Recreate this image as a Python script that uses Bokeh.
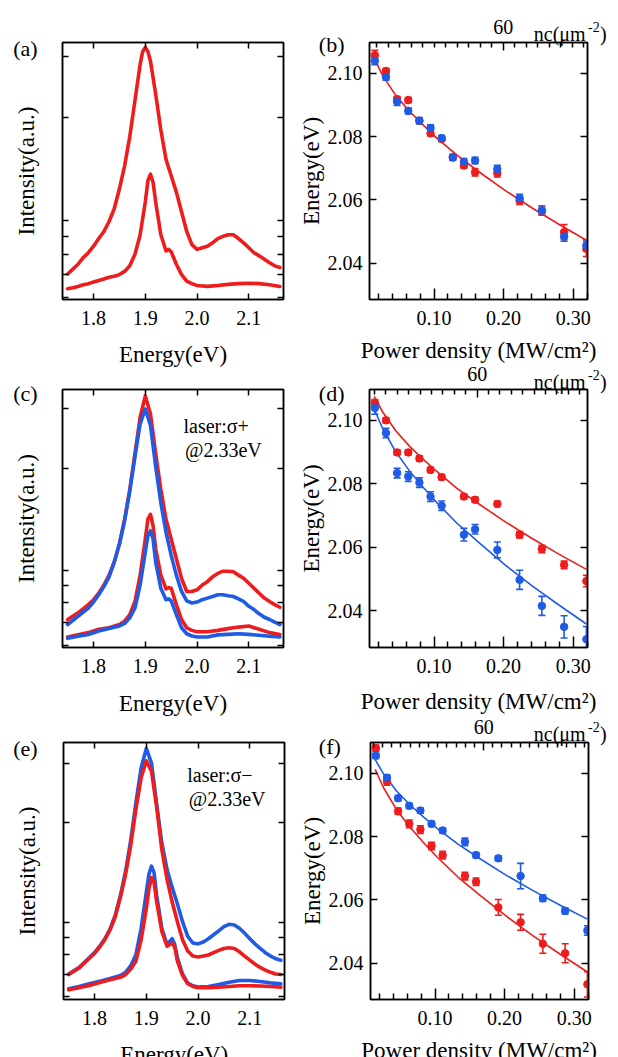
from bokeh.plotting import figure
from bokeh.models import (Range1d, LinearAxis, LogAxis, FixedTicker, Label, Whisker,
                          TeeHead, ColumnDataSource, NumeralTickFormatter, CustomLabelingPolicy)
from bokeh.layouts import row, column
from bokeh.embed import file_html
from bokeh.resources import INLINE

SERIF = "Liberation Serif"
RED = "#ee1c1c"
BLUE = "#1f5be6"

# ---------------- spectra (left column), intensity in a.u. (log axis) ----------------
E_TICKS = [1.8, 1.9, 2.0, 2.1]
I_TICKS = [6, 7, 8, 9, 10, 20, 30]

a_E_up = [1.75, 1.76, 1.77, 1.78, 1.79, 1.80, 1.81, 1.82, 1.83, 1.84, 1.85, 1.86, 1.87, 1.88, 1.89,
          1.895, 1.90, 1.905, 1.91, 1.92, 1.93, 1.94, 1.95, 1.96, 1.97, 1.98, 1.99, 2.00, 2.01, 2.02,
          2.03, 2.04, 2.05, 2.06, 2.07, 2.08, 2.09, 2.10, 2.11, 2.12, 2.13, 2.14, 2.15, 2.16]
a_I_up = [7.01, 7.24, 7.48, 7.82, 8.08, 8.44, 8.88, 9.31, 9.95, 10.85, 12.38, 14.43, 17.56, 22.34, 28.41,
          31.0, 31.83, 31.0, 29.04, 23.33, 18.34, 15.07, 13.51, 12.11, 10.62, 9.31, 8.53, 8.26, 8.35, 8.44,
          8.63, 8.88, 9.01, 9.11, 9.11, 8.88, 8.63, 8.35, 8.08, 7.91, 7.73, 7.56, 7.40, 7.32]
a_E_low = [1.75, 1.76, 1.77, 1.78, 1.79, 1.80, 1.81, 1.82, 1.83, 1.84, 1.85, 1.86, 1.87, 1.88, 1.89, 1.90,
           1.905, 1.91, 1.915, 1.92, 1.93, 1.94, 1.945, 1.95, 1.96, 1.97, 1.98, 1.99, 2.00, 2.02, 2.04,
           2.06, 2.08, 2.10, 2.12, 2.14, 2.16]
a_I_low = [6.35, 6.39, 6.45, 6.52, 6.57, 6.64, 6.71, 6.78, 6.86, 6.90, 6.98, 7.13, 7.40, 7.99, 9.11, 11.34,
           13.07, 13.65, 12.93, 11.34, 9.11, 8.17, 8.26, 8.13, 7.48, 6.98, 6.68, 6.57, 6.49, 6.45, 6.49,
           6.54, 6.57, 6.59, 6.57, 6.52, 6.45]

ce_E_up = [1.75, 1.77, 1.79, 1.80, 1.81, 1.82, 1.83, 1.84, 1.85, 1.86, 1.87, 1.88, 1.89, 1.90,
           1.91, 1.92, 1.93, 1.94, 1.95, 1.96, 1.97, 1.98, 1.99, 2.00, 2.01, 2.02, 2.03, 2.04, 2.05,
           2.06, 2.07, 2.08, 2.09, 2.10, 2.11, 2.12, 2.13, 2.14, 2.15, 2.16]
c_red_up = [7.14, 7.47, 7.90, 8.17, 8.54, 9.03, 9.66, 10.56, 11.95, 14.14, 17.30, 22.13, 28.31, 32.74,
            28.95, 22.13, 17.30, 14.14, 12.36, 10.80, 9.45, 8.64, 8.64, 8.74, 9.03, 9.24, 9.55, 9.77, 9.92,
            9.92, 9.88, 9.66, 9.45, 9.14, 8.83, 8.54, 8.26, 8.07, 7.90, 7.76]
c_blue_up = [6.90, 7.30, 7.72, 8.04, 8.45, 8.93, 9.55, 10.56, 11.95, 13.98, 17.11, 21.64, 27.07, 29.95,
             26.77, 20.23, 15.81, 12.93, 11.05, 9.66, 8.64, 8.11, 7.99, 8.04, 8.17, 8.26, 8.35, 8.45, 8.45,
             8.39, 8.35, 8.22, 8.07, 7.81, 7.64, 7.42, 7.25, 7.14, 7.01, 6.90]
c_E_low = [1.75, 1.77, 1.79, 1.81, 1.83, 1.85, 1.86, 1.87, 1.88, 1.89, 1.90, 1.905, 1.91, 1.915, 1.92,
           1.93, 1.94, 1.945, 1.95, 1.96, 1.97, 1.98, 1.99, 2.00, 2.02, 2.04, 2.06, 2.08, 2.10, 2.12,
           2.14, 2.16]
c_red_low = [6.34, 6.43, 6.53, 6.68, 6.75, 6.90, 7.06, 7.38, 8.07, 9.66, 12.36, 14.14, 14.62, 13.52, 11.56,
             9.66, 8.80, 8.87, 8.83, 7.90, 7.14, 6.75, 6.63, 6.57, 6.57, 6.63, 6.71, 6.78, 6.83, 6.68,
             6.53, 6.45]
c_blue_low = [6.28, 6.37, 6.45, 6.60, 6.71, 6.83, 6.95, 7.22, 7.72, 9.03, 11.30, 12.64, 13.07, 12.36, 10.56,
              8.83, 8.17, 8.22, 8.11, 7.38, 6.75, 6.48, 6.38, 6.34, 6.34, 6.43, 6.45, 6.48, 6.45, 6.41,
              6.37, 6.34]

e_blue_up = [7.01, 7.33, 7.85, 8.12, 8.49, 8.94, 9.57, 10.52, 12.05, 14.28, 17.70, 22.96, 29.09, 33.32,
             30.10, 22.69, 17.31, 14.44, 12.75, 11.39, 10.06, 9.09, 8.68, 8.63, 8.74, 8.94, 9.19, 9.44, 9.72,
             9.88, 9.83, 9.61, 9.29, 8.94, 8.63, 8.36, 8.12, 7.93, 7.79, 7.71]
e_red_up = [6.98, 7.30, 7.81, 8.08, 8.45, 8.90, 9.51, 10.41, 11.92, 13.96, 17.11, 21.93, 27.19, 30.58,
            28.44, 22.18, 16.54, 13.49, 11.52, 10.06, 8.88, 8.21, 7.93, 7.88, 7.93, 7.99, 8.12, 8.25, 8.36,
            8.40, 8.36, 8.17, 7.93, 7.71, 7.50, 7.33, 7.20, 7.09, 7.01, 6.98]
e_E_low = [1.75, 1.77, 1.79, 1.81, 1.83, 1.85, 1.86, 1.87, 1.88, 1.89, 1.90, 1.905, 1.91, 1.915, 1.92,
           1.93, 1.94, 1.95, 1.955, 1.96, 1.97, 1.98, 1.99, 2.00, 2.02, 2.04, 2.06, 2.08, 2.10, 2.12,
           2.14, 2.16]
e_blue_low = [6.33, 6.43, 6.55, 6.67, 6.79, 6.93, 7.09, 7.42, 8.02, 9.61, 12.33, 13.96, 14.77, 14.12, 12.05,
              9.61, 8.59, 8.94, 8.59, 7.85, 7.01, 6.58, 6.46, 6.40, 6.43, 6.52, 6.62, 6.70, 6.70, 6.65,
              6.59, 6.55]
e_red_low = [6.28, 6.37, 6.47, 6.61, 6.73, 6.85, 6.98, 7.25, 7.67, 8.88, 11.01, 12.61, 13.65, 13.19, 11.52,
             9.40, 8.49, 8.68, 8.43, 7.67, 6.93, 6.55, 6.43, 6.37, 6.37, 6.40, 6.43, 6.46, 6.46, 6.45,
             6.43, 6.40]

# ---------------- peak energy vs power density (right column) ----------------
P_TICKS = [0.10, 0.20, 0.30]
P_MINOR = [0.02, 0.04, 0.06, 0.08, 0.12, 0.14, 0.16, 0.18, 0.22, 0.24, 0.26, 0.28, 0.32]
EN_TICKS = [2.04, 2.06, 2.08, 2.10]
NC_TICKS = [60]
NC_MINOR = [v for v in range(-5, 125, 5) if v != 60]

P15 = [0.015, 0.031, 0.047, 0.063, 0.079, 0.095, 0.111, 0.127, 0.143, 0.159, 0.191, 0.223, 0.255, 0.287, 0.319]
P14 = [0.015, 0.031, 0.047, 0.063, 0.079, 0.095, 0.111, 0.143, 0.159, 0.191, 0.223, 0.255, 0.287, 0.319]

b_red = [2.1057, 2.1007, 2.0918, 2.0915, 2.0850, 2.0810, 2.0792, 2.0734, 2.0708, 2.0687, 2.0684, 2.0597, 2.0564, 2.0498, 2.0445]
b_red_err = [0.0015, 0.0008, 0.0008, 0.0008, 0.0008, 0.0008, 0.0008, 0.0008, 0.0008, 0.0012, 0.0012, 0.0012, 0.0012, 0.0024, 0.0024]
b_blue = [2.1039, 2.0988, 2.0910, 2.0881, 2.0850, 2.0827, 2.0795, 2.0734, 2.0720, 2.0724, 2.0697, 2.0605, 2.0566, 2.0484, 2.0456]
b_blue_err = [0.0012, 0.0010, 0.0012, 0.0010, 0.0010, 0.0010, 0.0008, 0.0010, 0.0010, 0.0010, 0.0012, 0.0012, 0.0015, 0.0015, 0.0018]

d_red = [2.1055, 2.1000, 2.0899, 2.0899, 2.0880, 2.0844, 2.0821, 2.0760, 2.0750, 2.0737, 2.0640, 2.0595, 2.0545, 2.0494]
d_red_err = [0.0010, 0.0008, 0.0008, 0.0008, 0.0008, 0.0008, 0.0008, 0.0008, 0.0008, 0.0008, 0.0010, 0.0012, 0.0012, 0.0018]
d_blue = [2.1039, 2.0960, 2.0834, 2.0823, 2.0804, 2.0760, 2.0731, 2.0640, 2.0657, 2.0592, 2.0498, 2.0416, 2.0350, 2.0311]
d_blue_err = [0.0020, 0.0015, 0.0015, 0.0015, 0.0015, 0.0015, 0.0015, 0.0020, 0.0015, 0.0025, 0.0030, 0.0030, 0.0035, 0.0040]

f_red = [2.1079, 2.0974, 2.0880, 2.0840, 2.0822, 2.0770, 2.0741, 2.0675, 2.0657, 2.0576, 2.0529, 2.0461, 2.0431, 2.0333]
f_red_err = [0.0010, 0.0012, 0.0010, 0.0012, 0.0012, 0.0012, 0.0012, 0.0012, 0.0012, 0.0025, 0.0025, 0.0030, 0.0030, 0.0040]
f_blue = [2.1055, 2.0986, 2.0921, 2.0897, 2.0882, 2.0840, 2.0819, 2.0783, 2.0741, 2.0731, 2.0675, 2.0605, 2.0565, 2.0503]
f_blue_err = [0.0008, 0.0008, 0.0008, 0.0008, 0.0008, 0.0008, 0.0008, 0.0012, 0.0008, 0.0008, 0.0040, 0.0010, 0.0010, 0.0015]

fit_P_b = [0.011, 0.026, 0.045, 0.065, 0.085, 0.104, 0.133, 0.163, 0.202, 0.241, 0.280, 0.319]
fit_b_red = [2.1062, 2.0993, 2.0930, 2.0879, 2.0835, 2.0795, 2.0741, 2.0691, 2.0630, 2.0574, 2.0522, 2.0472]
fit_P_df = [0.014, 0.026, 0.045, 0.065, 0.085, 0.104, 0.133, 0.163, 0.202, 0.241, 0.280, 0.319]
fit_d_red = [2.1075, 2.1027, 2.0967, 2.0918, 2.0876, 2.0839, 2.0786, 2.0739, 2.0681, 2.0628, 2.0578, 2.0531]
fit_d_blue = [2.1036, 2.0975, 2.0901, 2.0840, 2.0788, 2.0741, 2.0676, 2.0618, 2.0545, 2.0479, 2.0418, 2.0359]
fit_f_red = [2.1012, 2.0954, 2.0884, 2.0827, 2.0777, 2.0733, 2.0672, 2.0617, 2.0549, 2.0486, 2.0428, 2.0372]
fit_f_blue = [2.1043, 2.0998, 2.0943, 2.0898, 2.0859, 2.0824, 2.0776, 2.0732, 2.0678, 2.0629, 2.0583, 2.0539]


def hide_labels():
    return CustomLabelingPolicy(code="for (const i of Array.from(indices)) { indices.unset(i) }")


def style_axis(ax, tick_in, minor_in=0, label_size="20px", standoff=11, labels=True):
    ax.major_tick_in = tick_in
    ax.major_tick_out = 0
    ax.minor_tick_in = minor_in
    ax.minor_tick_out = 0
    ax.axis_line_color = "black"
    ax.axis_line_width = 1.5
    ax.major_tick_line_width = 1.5
    ax.minor_tick_line_width = 1.5
    ax.major_tick_line_color = "black"
    ax.minor_tick_line_color = "black"
    ax.major_label_text_font = SERIF
    ax.major_label_text_font_size = label_size if labels else "0px"
    ax.major_label_text_color = "black"
    ax.major_label_standoff = standoff if labels else 0
    if not labels:
        ax.major_label_policy = hide_labels()
    ax.axis_label_text_font = SERIF
    ax.axis_label_text_font_size = "23px"
    ax.axis_label_text_font_style = "normal"
    ax.axis_label_text_color = "black"


def base_fig(w, h, bl, br, bt, bb, xr, yr, log=False):
    p = figure(width=w, height=h, x_range=Range1d(*xr), y_range=Range1d(*yr),
               y_axis_type="log" if log else "linear", output_backend="svg",
               toolbar_location=None, min_border_left=bl, min_border_right=br,
               min_border_top=bt, min_border_bottom=bb)
    p.grid.visible = False
    p.outline_line_color = "black"
    p.outline_line_width = 1.5
    p.background_fill_color = "white"
    p.border_fill_color = "white"
    return p


def spectrum_panel(w, h, bl, br, bt, bb, yr, curves):
    p = base_fig(w, h, bl, br, bt, bb, (1.740, 2.167), yr, log=True)
    xa = p.xaxis[0]
    ya = p.yaxis[0]
    xa.ticker = FixedTicker(ticks=E_TICKS, minor_ticks=[])
    xa.formatter = NumeralTickFormatter(format="0.0")
    style_axis(xa, 6)
    ya.ticker = FixedTicker(ticks=I_TICKS, minor_ticks=[])
    style_axis(ya, 6, labels=False)
    ya.axis_label = "Intensity(a.u.)"
    ya.axis_label_standoff = 24
    top = LinearAxis(ticker=FixedTicker(ticks=E_TICKS, minor_ticks=[]))
    style_axis(top, 6, labels=False)
    p.add_layout(top, "above")
    right = LogAxis(ticker=FixedTicker(ticks=I_TICKS, minor_ticks=[]))
    style_axis(right, 6, labels=False)
    p.add_layout(right, "right")
    for ex, iy, col in curves:
        p.line(ex, iy, line_color=col, line_width=3.6, line_join="round", line_cap="round")
    return p


def energy_panel(w, h, bl, br, bt, bb, nc_range, series, fits):
    p = base_fig(w, h, bl, br, bt, bb, (0.0073, 0.3206), (2.0285, 2.1097))
    xa = p.xaxis[0]
    ya = p.yaxis[0]
    xa.ticker = FixedTicker(ticks=P_TICKS, minor_ticks=P_MINOR)
    xa.formatter = NumeralTickFormatter(format="0.00")
    style_axis(xa, 11, 6)
    ya.ticker = FixedTicker(ticks=EN_TICKS, minor_ticks=[])
    ya.formatter = NumeralTickFormatter(format="0.00")
    style_axis(ya, 7, standoff=7)
    ya.axis_label = "Energy(eV)"
    ya.axis_label_standoff = 1
    right = LinearAxis(ticker=FixedTicker(ticks=EN_TICKS, minor_ticks=[]))
    style_axis(right, 7, labels=False)
    p.add_layout(right, "right")
    p.extra_x_ranges = {"nc": Range1d(*nc_range)}
    top = LinearAxis(x_range_name="nc", ticker=FixedTicker(ticks=NC_TICKS, minor_ticks=NC_MINOR))
    style_axis(top, 8, 5, standoff=9)
    p.add_layout(top, "above")

    for fx, fy, col in fits:
        p.line(fx, fy, line_color=col, line_width=1.6)
    for px, ey, err, col in series:
        src = ColumnDataSource(dict(x=px, y=ey,
                                    lo=[a - b for a, b in zip(ey, err)],
                                    hi=[a + b for a, b in zip(ey, err)]))
        p.add_layout(Whisker(base="x", lower="lo", upper="hi", source=src, line_color=col,
                             line_width=1.6,
                             lower_head=TeeHead(size=7, line_color=col, line_width=1.6),
                             upper_head=TeeHead(size=7, line_color=col, line_width=1.6)))
        p.scatter("x", "y", source=src, size=7.5, marker="circle", fill_color=col, line_color=col)
    return p


LW, RW = 295, 323
TOTAL_H = 1057
pa = spectrum_panel(LW, 358, 62, 12, 37, 59, (5.91, 32.9),
                    [(a_E_up, a_I_up, RED), (a_E_low, a_I_low, RED)])
pb = energy_panel(RW, 358, 74, 31, 42, 59, (1.9, 96.6),
                  [(P15, b_red, b_red_err, RED), (P15, b_blue, b_blue_err, BLUE)],
                  [(fit_P_b, fit_b_red, RED)])

pc = spectrum_panel(LW, 352, 62, 12, 27, 63, (5.90, 34.2),
                    [(ce_E_up, c_red_up, RED), (c_E_low, c_red_low, RED),
                     (ce_E_up, c_blue_up, BLUE), (c_E_low, c_blue_low, BLUE)])
pd = energy_panel(RW, 352, 74, 31, 31, 62, (12.8, 108.4),
                  [(P14, d_red, d_red_err, RED), (P14, d_blue, d_blue_err, BLUE)],
                  [(fit_P_df, fit_d_red, RED), (fit_P_df, fit_d_blue, BLUE)])

pe = spectrum_panel(LW, 347, 63, 11, 27, 58, (5.875, 34.7),
                    [(ce_E_up, e_blue_up, BLUE), (e_E_low, e_blue_low, BLUE),
                     (ce_E_up, e_red_up, RED), (e_E_low, e_red_low, RED)])
pf = energy_panel(RW, 347, 75, 30, 32, 58, (-1.6, 117.1),
                  [(P14, f_red, f_red_err, RED), (P14, f_blue, f_blue_err, BLUE)],
                  [(fit_P_df, fit_f_red, RED), (fit_P_df, fit_f_blue, BLUE)])

# transparent overlay that carries the free texts (panel tags, units, notes, x titles)
ov = figure(width=LW + RW, height=TOTAL_H, x_range=Range1d(0, LW + RW), y_range=Range1d(TOTAL_H, 0),
            output_backend="svg", toolbar_location=None, x_axis_location=None, y_axis_location=None,
            min_border=0, min_border_left=0, min_border_right=0, min_border_top=0, min_border_bottom=0,
            margin=(-TOTAL_H, 0, 0, 0))
ov.grid.visible = False
ov.outline_line_color = None
ov.background_fill_alpha = 0
ov.border_fill_alpha = 0


def txt(x, y, text, size, align="left"):
    ov.add_layout(Label(x=x, y=y, x_units="canvas", y_units="canvas", text=text,
                        text_font=SERIF, text_font_size=size, text_baseline="alphabetic",
                        text_align=align, text_color="black"))


for tag, x, y in [("(a)", 12.7, 48), ("(b)", 318.3, 44.3), ("(c)", 12.7, 392.7),
                  ("(d)", 318.3, 393.3), ("(e)", 12.7, 747.7), ("(f)", 318.3, 746)]:
    txt(x, y, tag, "22px")

for base in [33, 381.7, 733.3]:
    txt(533.3, base, "nc(\u03bcm", "20px")
    txt(587.5, base - 7, "-2", "14px")
    txt(599.5, base, ")", "20px")

txt(183, 425, "laser:\u03c3+", "20px")
txt(184.5, 449.3, "@2.33eV", "20px")
txt(186.7, 774, "laser:\u03c3\u2212", "20px")
txt(188.3, 798.7, "@2.33eV", "20px")

for cx, base in [(172.5, 354), (172.5, 703), (173.7, 1053.5)]:
    txt(cx, base, "Energy(eV)", "23px", align="center")
for cx, base in [(478, 350), (478, 700.5), (478.6, 1050)]:
    txt(cx, base, "Power density (MW/cm\u00b2)", "23px", align="center")

layout = column(row(pa, pb, spacing=0), row(pc, pd, spacing=0), row(pe, pf, spacing=0), ov, spacing=0)

open("out.html", "w").write(file_html(layout, INLINE))
